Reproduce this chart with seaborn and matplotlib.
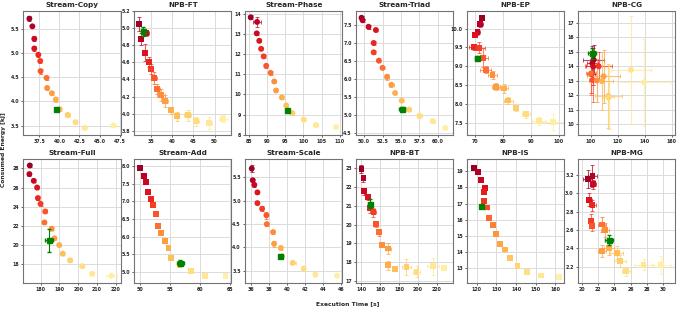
import numpy as np
import pandas as pd
import matplotlib
matplotlib.use("Agg")
import matplotlib.pyplot as plt
from matplotlib.ticker import MultipleLocator
import seaborn as sns

# ---------------- data (time [s], energy [kJ], errors) ----------------
copy_time = [36.27, 36.64, 36.88, 36.88, 37.38, 37.62, 37.66, 38.40, 38.48, 39.06, 39.55, 40.04, 41.03, 42.00, 43.16, 46.70]
copy_energy = [5.72, 5.56, 5.30, 5.10, 4.97, 4.84, 4.63, 4.49, 4.28, 4.17, 4.04, 3.84, 3.72, 3.57, 3.45, 3.50]
copy_terr = [0.1, 0.05, 0.1, 0.1, 0.1, 0.1, 0.1, 0.15, 0.1, 0.1, 0.15, 0.2, 0.35, 0.1, 0.1, 0.3]
copy_eerr = [0.05, 0.02, 0.05, 0.05, 0.04, 0.05, 0.05, 0.04, 0.04, 0.04, 0.05, 0.03, 0.04, 0.03, 0.02, 0.04]
copy_best = [39.63, 3.84, 0.1, 0.03]

ft_time = [32.2, 32.6, 33.9, 33.65, 34.6, 34.9, 35.8, 36.5, 37.4, 38.4, 39.7, 41.2, 43.7, 45.6, 48.6, 52.1]
ft_energy = [5.05, 4.87, 4.94, 4.71, 4.60, 4.52, 4.42, 4.29, 4.22, 4.15, 4.04, 3.97, 3.98, 3.91, 3.89, 3.94]
ft_terr = [0.3, 0.3, 0.5, 0.3, 0.3, 0.4, 0.5, 0.7, 0.9, 0.6, 0.5, 0.5, 0.8, 0.7, 0.7, 1.0]
ft_eerr = [0.08, 0.07, 0.03, 0.1, 0.06, 0.06, 0.07, 0.06, 0.07, 0.07, 0.04, 0.05, 0.06, 0.05, 0.07, 0.04]
ft_best = [33.1, 4.96, 0.5, 0.05]

phase_time = [85.55, 87.3, 87.2, 87.9, 88.4, 89.1, 89.8, 91.0, 92.0, 92.5, 94.1, 95.3, 97.0, 100.1, 103.4, 109.0]
phase_energy = [13.85, 13.62, 13.05, 12.68, 12.28, 11.9, 11.43, 11.08, 10.65, 10.2, 9.85, 9.45, 9.07, 8.75, 8.47, 8.38]
phase_terr = [0.2, 1.0, 0.2, 0.2, 0.2, 0.3, 0.3, 0.4, 0.3, 0.3, 0.3, 0.3, 0.3, 0.4, 0.5, 0.6]
phase_eerr = [0.1, 0.25, 0.08, 0.08, 0.08, 0.08, 0.1, 0.1, 0.08, 0.08, 0.08, 0.08, 0.06, 0.06, 0.06, 0.06]
phase_best = [95.6, 9.23, 0.3, 0.06]

triad_time = [49.65, 49.8, 50.6, 51.6, 51.3, 51.3, 52.0, 52.5, 53.1, 53.7, 54.2, 55.1, 56.1, 57.5, 59.3, 61.0]
triad_energy = [7.69, 7.62, 7.44, 7.35, 6.99, 6.73, 6.50, 6.30, 6.05, 5.83, 5.60, 5.39, 5.14, 4.97, 4.82, 4.63]
triad_terr = [0.1, 0.1, 0.2, 0.1, 0.1, 0.1, 0.1, 0.1, 0.3, 0.3, 0.1, 0.1, 0.2, 0.3, 0.3, 0.2]
triad_eerr = [0.04, 0.04, 0.05, 0.03, 0.05, 0.05, 0.03, 0.03, 0.08, 0.06, 0.03, 0.03, 0.03, 0.05, 0.04, 0.02]
triad_best = [55.2, 5.17, 0.4, 0.03]

ep_time = [72.5, 71.8, 70.8, 70.0, 69.6, 71.45, 72.7, 73.7, 76.2, 77.4, 80.2, 81.9, 84.5, 88.3, 92.8, 98.1]
ep_energy = [10.28, 10.12, 9.92, 9.82, 9.51, 9.49, 9.23, 8.91, 8.77, 8.46, 8.41, 8.09, 7.88, 7.72, 7.55, 7.52]
ep_terr = [0.8, 1.0, 0.8, 0.6, 2.0, 2.0, 2.0, 2.0, 1.5, 1.5, 1.5, 1.5, 0.8, 1.5, 2.5, 5.0]
ep_eerr = [0.05, 0.07, 0.08, 0.05, 0.08, 0.15, 0.25, 0.1, 0.1, 0.1, 0.13, 0.1, 0.06, 0.1, 0.1, 0.2]
ep_best = [70.7, 9.23, 0.8, 0.05]

cg_time = [102.0, 101.0, 101.7, 100.2, 105.7, 101.2, 100.0, 104.3, 109.4, 108.2, 112.9, 113.1, 129.7, 139.4]
cg_energy = [14.44, 14.2, 13.98, 13.47, 14.0, 13.05, 13.5, 13.02, 13.3, 12.97, 11.95, 11.85, 13.75, 12.9]
cg_terr = [8, 4, 5, 3, 10, 3, 4, 5, 12, 8, 10, 4, 15, 20]
cg_eerr = [1.0, 1.2, 1.3, 1.3, 1.0, 1.5, 1.5, 1.5, 1.8, 2.0, 2.2, 2.2, 3.7, 3.0]
cg_best = [100.7, 14.88, 3.0, 0.4]

full_time = [174.3, 174.1, 176.4, 178.2, 178.6, 180.0, 182.5, 182.1, 185.9, 187.4, 189.9, 191.8, 195.7, 202.2, 207.4, 217.7]
full_energy = [28.3, 27.4, 26.7, 26.0, 24.9, 24.3, 23.5, 22.35, 21.7, 20.7, 20.0, 19.1, 18.4, 17.8, 17.0, 16.8]
full_terr = [0.5, 0.5, 0.5, 0.5, 0.8, 0.8, 0.8, 0.5, 0.8, 1.0, 0.8, 0.8, 0.8, 0.8, 1.0, 3.0]
full_eerr = [0.15, 0.15, 0.15, 0.15, 0.2, 0.2, 0.2, 0.15, 0.15, 0.15, 0.15, 0.15, 0.15, 0.15, 0.1, 0.1]
full_best = [184.6, 20.5, 2.0, 1.2]

add_time = [50.05, 50.7, 51.06, 51.3, 51.8, 52.2, 52.6, 52.96, 53.5, 54.1, 54.75, 55.2, 56.6, 58.5, 60.9, 64.3]
add_energy = [7.96, 7.73, 7.55, 7.26, 7.06, 6.89, 6.64, 6.31, 6.10, 5.87, 5.67, 5.41, 5.21, 5.04, 4.90, 4.89]
add_terr = [0.1, 0.15, 0.1, 0.1, 0.1, 0.1, 0.1, 0.1, 0.1, 0.15, 0.1, 0.1, 0.1, 0.1, 0.3, 0.3]
add_eerr = [0.06, 0.05, 0.06, 0.05, 0.03, 0.05, 0.06, 0.05, 0.04, 0.04, 0.05, 0.03, 0.03, 0.03, 0.02, 0.02]
add_best = [56.7, 5.27, 0.6, 0.06]

scale_time = [36.04, 36.15, 36.33, 36.67, 36.67, 37.19, 37.67, 37.71, 38.41, 38.52, 39.26, 39.41, 40.6, 41.8, 43.1, 45.5]
scale_energy = [5.69, 5.44, 5.34, 5.18, 4.95, 4.83, 4.69, 4.50, 4.33, 4.08, 3.99, 3.81, 3.67, 3.55, 3.42, 3.40]
scale_terr = [0.05, 0.05, 0.05, 0.05, 0.05, 0.05, 0.05, 0.05, 0.1, 0.05, 0.1, 0.1, 0.3, 0.1, 0.1, 0.1]
scale_eerr = [0.07, 0.03, 0.05, 0.03, 0.02, 0.05, 0.07, 0.03, 0.05, 0.06, 0.04, 0.02, 0.03, 0.02, 0.02, 0.02]
scale_best = [39.19, 3.81, 0.1, 0.03]

bt_time = [140.3, 142.4, 143.4, 146.8, 149.2, 153.0, 155.7, 159.1, 161.9, 168.7, 168.4, 176.2, 187.9, 198.5, 216.0, 227.5]
bt_energy = [22.96, 22.46, 21.77, 21.45, 20.86, 20.66, 20.05, 19.59, 18.93, 18.73, 17.84, 17.66, 17.75, 17.50, 17.80, 17.68]
bt_terr = [1.5, 1.5, 2, 2, 2, 2.5, 2, 2, 1, 2.5, 2, 2, 5, 4, 6, 2]
bt_eerr = [0.2, 0.2, 0.2, 0.15, 0.25, 0.25, 0.15, 0.2, 0.1, 0.3, 0.25, 0.1, 0.45, 0.3, 0.45, 0.1]
bt_best = [149.2, 21.12, 1.5, 0.25]

is_time = [118.5, 120.7, 122.2, 124.1, 123.7, 123.7, 125.1, 126.1, 128.1, 130.0, 132.0, 134.2, 136.8, 140.7, 145.4, 152.7, 162.0]
is_energy = [19.2, 18.94, 18.48, 17.96, 17.73, 17.13, 16.75, 16.08, 15.65, 15.13, 14.50, 14.15, 13.60, 13.15, 12.75, 12.54, 12.46]
is_terr = [1.0, 0.8, 0.4, 0.8, 0.4, 0.4, 0.8, 0.4, 0.4, 0.4, 0.4, 0.4, 0.6, 0.6, 0.8, 0.8, 0.8]
is_eerr = [0.15, 0.12, 0.05, 0.12, 0.15, 0.08, 0.08, 0.05, 0.05, 0.05, 0.05, 0.05, 0.05, 0.05, 0.05, 0.05, 0.05]
is_best = [122.2, 16.85, 0.6, 0.08]

mg_time = [20.7, 21.3, 21.4, 20.9, 21.3, 21.1, 21.2, 22.5, 22.9, 22.45, 23.3, 24.3, 24.7, 25.4, 27.6, 29.8]
mg_energy = [3.16, 3.19, 3.10, 2.93, 2.87, 2.70, 2.64, 2.66, 2.60, 2.37, 2.40, 2.35, 2.26, 2.15, 2.22, 2.22]
mg_terr = [0.6, 0.6, 0.3, 0.3, 0.4, 0.3, 0.3, 0.5, 0.5, 0.5, 0.6, 0.8, 0.7, 0.5, 1.2, 1.2]
mg_eerr = [0.1, 0.12, 0.05, 0.07, 0.06, 0.07, 0.05, 0.08, 0.08, 0.07, 0.07, 0.07, 0.07, 0.05, 0.06, 0.1]
mg_best = [23.3, 2.49, 0.5, 0.05]

titles = ["Stream-Copy", "NPB-FT", "Stream-Phase", "Stream-Triad", "NPB-EP", "NPB-CG",
          "Stream-Full", "Stream-Add", "Stream-Scale", "NPB-BT", "NPB-IS", "NPB-MG"]

# ---------------- figure ----------------
sns.set_theme(style="whitegrid")
plt.rcParams["font.family"] = ["DejaVu Sans"]
plt.rcParams.update({
    "axes.edgecolor": "0.45",
    "axes.linewidth": 0.8,
    "grid.color": "0.86",
    "grid.linewidth": 0.7,
    "xtick.major.size": 1.5,
    "ytick.major.size": 1.5,
    "xtick.major.width": 0.5,
    "ytick.major.width": 0.5,
    "xtick.bottom": True,
    "ytick.left": True,
    "xtick.color": "0.15",
    "ytick.color": "0.15",
})

panels = [
    (copy_time, copy_energy, copy_terr, copy_eerr, copy_best, "o", (35.5, 47.6), (3.3, 5.88), 2.5, 0.5),
    (ft_time, ft_energy, ft_terr, ft_eerr, ft_best, "s", (31.0, 54.0), (3.75, 5.2), 5, 0.2),
    (phase_time, phase_energy, phase_terr, phase_eerr, phase_best, "o", (84.0, 110.7), (7.97, 14.17), 5, 1),
    (triad_time, triad_energy, triad_terr, triad_eerr, triad_best, "o", (48.9, 62.1), (4.43, 7.88), 2.5, 0.5),
    (ep_time, ep_energy, ep_terr, ep_eerr, ep_best, "s", (67.0, 102.0), (7.17, 10.47), 10, 0.5),
    (cg_time, cg_energy, cg_terr, cg_eerr, cg_best, "o", (90.3, 162.5), (9.26, 17.8), 20, 1),
    (full_time, full_energy, full_terr, full_eerr, full_best, "o", (170.8, 222.5), (16.04, 29.0), 10, 2),
    (add_time, add_energy, add_terr, add_eerr, add_best, "s", (49.0, 65.3), (4.69, 8.21), 5, 0.5),
    (scale_time, scale_energy, scale_terr, scale_eerr, scale_best, "o", (35.3, 46.1), (3.24, 5.90), 2, 0.5),
    (bt_time, bt_energy, bt_terr, bt_eerr, bt_best, "s", (134.5, 237.4), (16.9, 23.5), 20, 1),
    (is_time, is_energy, is_terr, is_eerr, is_best, "s", (115.0, 164.5), (12.08, 19.77), 10, 1),
    (mg_time, mg_energy, mg_terr, mg_eerr, mg_best, "s", (19.5, 31.5), (2.02, 3.38), 2, 0.2),
]

fig, axes = plt.subplots(2, 6, figsize=(6.82, 3.12), dpi=100)
fig.subplots_adjust(left=0.034, right=0.99, top=0.965, bottom=0.093, wspace=0.14, hspace=0.19)

for ax, title, (t, e, te, ee, best, mk, xl, yl, xs, ys) in zip(axes.flat, titles, panels):
    n = len(t)
    colors = sns.color_palette("YlOrRd_r", n + 1)[:n]
    df = pd.DataFrame({"time": t, "energy": e, "rank": range(n)})
    for i in range(n):
        ax.errorbar(t[i], e[i], xerr=te[i], yerr=ee[i], fmt="none",
                    ecolor=colors[i], elinewidth=0.8, capsize=1.5, capthick=0.7,
                    alpha=0.7, zorder=2)
    sns.scatterplot(data=df, x="time", y="energy", hue="rank", palette=colors,
                    marker=mk, s=18, linewidth=0, legend=False, ax=ax, zorder=3)
    ax.errorbar(best[0], best[1], xerr=best[2], yerr=best[3], fmt="s",
                color="green", ms=3.6, elinewidth=0.8, capsize=1.5, zorder=4)
    ax.set_xlim(*xl)
    ax.set_ylim(*yl)
    ax.xaxis.set_major_locator(MultipleLocator(xs))
    ax.yaxis.set_major_locator(MultipleLocator(ys))
    ax.set_title(title, fontsize=5.2, fontweight="bold", pad=2.5)
    ax.set_xlabel("")
    ax.set_ylabel("")
    ax.tick_params(labelsize=3.4, pad=1.5)
    for lab in ax.get_xticklabels() + ax.get_yticklabels():
        lab.set_fontweight("bold")

fig.text(0.51, 0.02, "Execution Time [s]", ha="center", va="bottom",
         fontsize=4.3, fontweight="bold")
fig.text(0.002, 0.52, "Consumed Energy [kJ]", ha="left", va="center",
         rotation=90, fontsize=4.3, fontweight="bold")

fig.savefig("out.png", dpi=100)
